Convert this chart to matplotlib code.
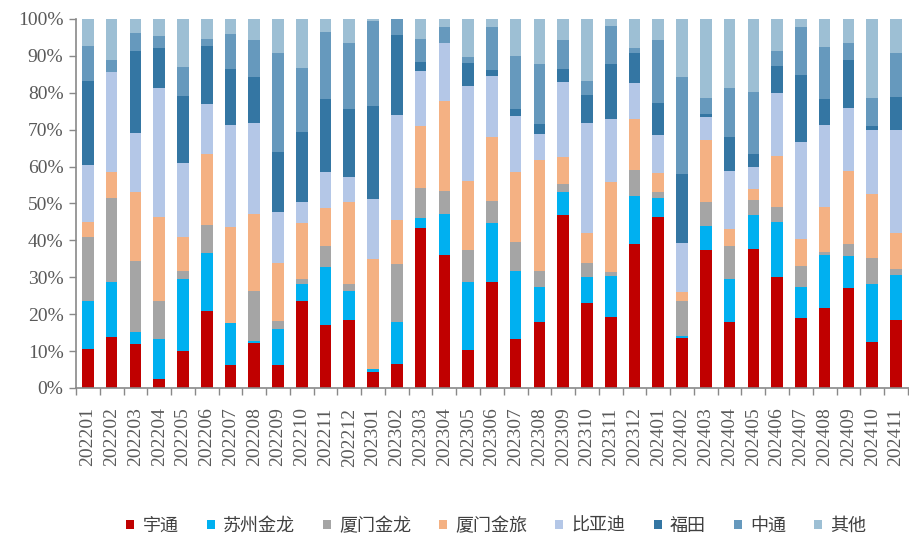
import numpy as np
import matplotlib
matplotlib.use('Agg')
import matplotlib.pyplot as plt

plt.rcParams['font.family'] = ['Liberation Serif', 'Noto Sans CJK SC', 'DejaVu Sans']

# months
months = ['202201', '202202', '202203', '202204', '202205', '202206', '202207',
          '202208', '202209', '202210', '202211', '202212', '202301', '202302',
          '202303', '202304', '202305', '202306', '202307', '202308', '202309',
          '202310', '202311', '202312', '202401', '202402', '202403', '202404',
          '202405', '202406', '202407', '202408', '202409', '202410', '202411']

# share of each maker (%)
yutong = [10.6, 13.9, 11.9, 2.3, 9.9, 20.9, 6.1, 12.1, 6.1, 23.5, 17.2, 18.5,
          4.2, 6.4, 43.4, 36.1, 10.4, 28.6, 13.3, 17.8, 46.8, 23.0, 19.3, 39.0,
          46.3, 13.5, 37.5, 18.0, 37.7, 30.1, 19.1, 21.7, 27.0, 12.4, 18.5]
suzhou_jinlong = [13.0, 14.8, 3.3, 11.1, 19.7, 15.7, 11.4, 0.7, 10.0, 4.7, 15.7, 7.7,
                  1.0, 11.4, 2.8, 11.1, 18.4, 16.0, 18.3, 9.6, 6.4, 7.1, 11.1, 13.0,
                  5.1, 0.6, 6.5, 11.4, 9.1, 15.0, 8.2, 14.3, 8.9, 15.8, 12.0]
xiamen_jinlong = [17.2, 22.9, 19.2, 10.2, 2.2, 7.5, 0.0, 13.6, 2.0, 1.2, 5.7, 2.0,
                  0.0, 15.9, 8.0, 6.2, 8.7, 6.2, 8.0, 4.3, 2.2, 3.8, 1.1, 7.0,
                  1.8, 9.4, 6.5, 9.1, 4.2, 4.0, 5.7, 0.9, 3.1, 6.9, 1.8]
xiamen_jinlv = [4.1, 6.9, 18.6, 22.8, 9.0, 19.4, 26.2, 20.7, 15.9, 15.4, 10.3, 22.1,
                29.7, 11.9, 16.9, 24.3, 18.6, 17.3, 18.9, 30.2, 7.2, 8.0, 24.4, 13.9,
                5.0, 2.6, 16.7, 4.5, 2.9, 13.9, 7.4, 12.2, 19.8, 17.5, 9.8]
byd = [15.6, 27.1, 16.1, 34.9, 20.1, 13.4, 27.6, 24.7, 13.7, 5.7, 9.7, 6.9,
       16.3, 28.5, 14.8, 15.8, 25.8, 16.4, 15.2, 6.9, 20.4, 30.0, 16.9, 9.8,
       10.4, 13.3, 6.2, 15.8, 6.1, 17.0, 26.2, 22.1, 17.0, 17.3, 27.7]
futian = [22.7, 0.0, 22.3, 10.9, 18.3, 15.9, 15.1, 12.6, 16.3, 18.9, 19.8, 18.3,
          25.2, 21.6, 2.4, 0.0, 6.3, 1.7, 1.9, 2.8, 3.4, 7.5, 14.9, 8.1,
          8.7, 18.7, 0.8, 9.3, 3.4, 7.3, 18.1, 7.0, 13.2, 1.2, 9.0]
zhongtong = [9.5, 3.3, 4.9, 3.3, 7.7, 1.7, 9.4, 9.9, 26.9, 17.4, 18.0, 17.9,
             23.1, 4.3, 6.3, 4.2, 1.6, 11.5, 14.5, 16.1, 7.9, 3.8, 10.5, 1.4,
             17.0, 26.3, 4.5, 13.2, 16.9, 4.1, 13.0, 14.3, 4.4, 7.5, 11.9]
others = [7.3, 11.1, 3.7, 4.5, 13.1, 5.5, 4.2, 5.7, 9.1, 13.2, 3.6, 6.6,
          0.5, 0.0, 5.4, 2.3, 10.2, 2.3, 9.9, 12.3, 5.7, 16.8, 1.8, 7.8,
          5.7, 15.6, 21.3, 18.7, 19.7, 8.6, 2.3, 7.5, 6.6, 21.4, 9.3]

names = ['宇通', '苏州金龙', '厦门金龙', '厦门金旅', '比亚迪', '福田', '中通', '其他']
series = [yutong, suzhou_jinlong, xiamen_jinlong, xiamen_jinlv, byd, futian, zhongtong, others]
colors = ['#C00000', '#00B0F0', '#A5A5A5', '#F4B183', '#B4C7E7', '#3476A3', '#6699BD', '#9DBFD4']

fig = plt.figure(figsize=(9.09, 5.35), dpi=100)
ax = fig.add_axes([0.0836, 0.2748, 0.9164, 0.6897])

x = np.arange(len(months))
bottom = np.zeros(len(months))
for name, vals, c in zip(names, series, colors):
    vals = np.array(vals)
    ax.bar(x, vals / 100, 0.49, bottom=bottom, color=c, label=name, linewidth=0)
    bottom += vals / 100

ax.set_xlim(-0.5, len(months) - 0.45)
ax.set_ylim(0, 1)
ax.set_yticks(np.arange(0, 1.01, 0.1))
ax.set_yticklabels([f'{int(round(v * 100))}%' for v in np.arange(0, 1.01, 0.1)])
ax.set_xticks(x)
ax.set_xticklabels(months, rotation=90)
ax.set_xticks(np.arange(-0.5, len(months), 1), minor=True)
ax.tick_params(axis='x', which='major', length=0, pad=14, labelsize=14, labelcolor='#595959')
ax.tick_params(axis='x', which='minor', length=5, width=1, color='#898989', direction='out')
ax.tick_params(axis='y', length=5, width=1, color='#898989', labelsize=14, labelcolor='#595959', pad=4)

for s in ['top', 'right']:
    ax.spines[s].set_visible(False)
for s in ['left', 'bottom']:
    ax.spines[s].set_color('#898989')
    ax.spines[s].set_linewidth(1.2)

leg = fig.legend(loc='lower center', bbox_to_anchor=(0.546, -0.03), ncol=8, frameon=False,
                 prop={'family': ['Noto Sans CJK SC'], 'size': 13},
                 handlelength=0.45, handleheight=0.45, handletextpad=0.45, columnspacing=1.55)
for t in leg.get_texts():
    t.set_color('#404040')

fig.savefig('out.png', dpi=100)
